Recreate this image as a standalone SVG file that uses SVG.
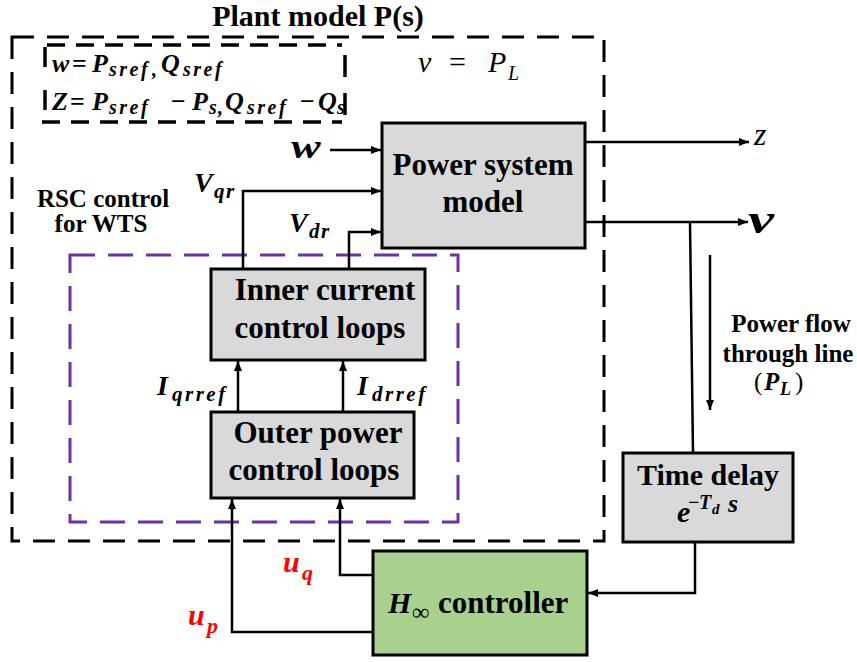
<svg xmlns="http://www.w3.org/2000/svg" width="857" height="662" viewBox="0 0 857 662">
<style>
.t{font-family:"Liberation Serif","Times New Roman",serif;font-weight:bold;fill:#000}
.m{font-family:"Liberation Serif","Times New Roman",serif;font-weight:bold;font-style:italic;fill:#000}
.r{font-family:"Liberation Serif","Times New Roman",serif;font-style:italic;fill:#000}
.box{fill:#d9d9d9;stroke:#000;stroke-width:3}
.green{fill:#a9d18e;stroke:#000;stroke-width:3}
.c{fill:none;stroke:#000;stroke-width:2.5}
.red{fill:#ff0000}
</style>
<defs>
<marker id="ah" markerUnits="userSpaceOnUse" markerWidth="11" markerHeight="8" refX="10" refY="4" orient="auto">
<path d="M0,0 L10,4 L0,8 Z" fill="#000"/>
</marker>
</defs>

<text class="t" x="318" y="26" font-size="30" text-anchor="middle">Plant model P(s)</text>

<g id="plant-boundary">
<rect x="12" y="37" width="592" height="504" fill="none" stroke="#000" stroke-width="3" stroke-dasharray="22 13"/>
</g>

<g id="rsc-boundary">
<rect x="70" y="255" width="388" height="267" fill="none" stroke="#7030a0" stroke-width="3" stroke-dasharray="25 13"/>
<text class="t" x="103" y="207" font-size="25" text-anchor="middle">RSC control</text>
<text class="t" x="101" y="232" font-size="25" text-anchor="middle">for WTS</text>
</g>

<g id="signal-definitions">
<g fill="none" stroke="#000" stroke-width="3.5">
<line x1="47" y1="45" x2="342" y2="45" stroke-dasharray="18 11"/>
<line x1="42" y1="122" x2="342" y2="122" stroke-dasharray="18 11"/>
<line x1="45" y1="47" x2="45" y2="67"/>
<line x1="45" y1="90" x2="45" y2="110"/>
<line x1="345" y1="55" x2="345" y2="77"/>
<line x1="345" y1="93" x2="345" y2="115"/>
</g>
<text class="m" font-size="26">
<tspan x="52" y="72">w</tspan><tspan x="72" y="72" font-style="normal">=</tspan><tspan x="92" y="72">P</tspan><tspan x="109" y="76" font-size="20" letter-spacing="2.5">sref</tspan><tspan x="152" y="76" font-size="20">,</tspan><tspan x="161" y="72">Q</tspan><tspan x="183" y="76" font-size="20" letter-spacing="2.5">sref</tspan>
</text>
<text class="m" font-size="26">
<tspan x="52" y="110">Z</tspan><tspan x="70" y="110" font-style="normal">=</tspan><tspan x="92" y="110">P</tspan><tspan x="109" y="114" font-size="20" letter-spacing="2.5">sref</tspan><tspan x="171" y="110" font-style="normal">−</tspan><tspan x="192" y="110">P</tspan><tspan x="209" y="114" font-size="20">s</tspan><tspan x="218" y="114" font-size="20">,</tspan><tspan x="225" y="110">Q</tspan><tspan x="247" y="114" font-size="20" letter-spacing="2.5">sref</tspan><tspan x="300" y="110" font-style="normal">−</tspan><tspan x="318" y="110">Q</tspan><tspan x="337" y="114" font-size="20">s</tspan>
</text>
</g>

<text class="r" font-size="30"><tspan x="418" y="72">v</tspan><tspan x="449" y="72" font-style="normal">=</tspan><tspan x="488" y="72">P</tspan><tspan x="508" y="80" font-size="20">L</tspan></text>

<g id="power-system-model">
<rect class="box" x="382" y="123" width="203" height="125"/>
<text class="t" x="483" y="175" font-size="31" text-anchor="middle">Power system</text>
<text class="t" x="483" y="212" font-size="31" text-anchor="middle">model</text>
</g>

<g id="inner-current-control">
<rect class="box" x="211" y="269" width="214" height="91"/>
<text class="t" x="325" y="300" font-size="31" text-anchor="middle">Inner current</text>
<text class="t" x="320" y="338" font-size="31" text-anchor="middle">control loops</text>
</g>

<g id="outer-power-control">
<rect class="box" x="211" y="412" width="203" height="86"/>
<text class="t" x="318" y="443" font-size="31" text-anchor="middle">Outer power</text>
<text class="t" x="314" y="480" font-size="31" text-anchor="middle">control loops</text>
</g>

<g id="time-delay">
<rect class="box" x="623" y="453" width="170" height="89"/>
<text class="t" x="708" y="485" font-size="30" text-anchor="middle">Time delay</text>
<text class="m" font-size="30"><tspan x="677" y="522">e</tspan><tspan x="688" y="509" font-size="20" font-style="normal">−</tspan><tspan x="699" y="509" font-size="20">T</tspan><tspan x="712" y="514" font-size="15">d</tspan><tspan x="728" y="512" font-size="26">s</tspan></text>
</g>

<g id="h-infinity-controller">
<rect class="green" x="373" y="551" width="214" height="104"/>
<text class="m" font-size="30"><tspan x="388" y="613">H</tspan><tspan x="412" y="620" font-size="24" font-style="normal">∞</tspan></text>
<text class="t" x="438" y="613" font-size="31">controller</text>
</g>

<g id="connectors">
<line class="c" x1="330" y1="150" x2="381" y2="150" marker-end="url(#ah)"/>
<polyline class="c" points="243,269 243,191 381,191" marker-end="url(#ah)"/>
<polyline class="c" points="349,269 349,232 381,232" marker-end="url(#ah)"/>
<line class="c" x1="585" y1="142" x2="749" y2="142" marker-end="url(#ah)"/>
<line class="c" x1="585" y1="222" x2="748" y2="222" marker-end="url(#ah)"/>
<line class="c" x1="690" y1="222" x2="693" y2="453"/>
<line class="c" x1="710" y1="255" x2="710" y2="410" marker-end="url(#ah)"/>
<line class="c" x1="238" y1="412" x2="238" y2="361" marker-end="url(#ah)"/>
<line class="c" x1="343" y1="412" x2="343" y2="361" marker-end="url(#ah)"/>
<polyline class="c" points="373,575 340,575 340,499" marker-end="url(#ah)"/>
<polyline class="c" points="373,632 232,632 232,499" marker-end="url(#ah)"/>
<polyline class="c" points="695,542 695,593 588,593" marker-end="url(#ah)"/>
</g>

<g id="labels">
<text class="m" font-size="33" transform="translate(291,158) scale(1.35,1)">w</text>
<text class="m" font-size="28"><tspan x="194" y="192">V</tspan><tspan x="214" y="198" font-size="21" letter-spacing="1.5">qr</tspan></text>
<text class="m" font-size="28"><tspan x="289" y="232">V</tspan><tspan x="309" y="238" font-size="21" letter-spacing="1.5">dr</tspan></text>
<text class="r" font-size="32" x="754" y="145">z</text>
<text class="m" font-size="42" transform="translate(748,233) scale(1.4,1)">v</text>
<text class="m" font-size="28"><tspan x="157" y="395">I</tspan><tspan x="172" y="401" font-size="21" letter-spacing="2.5">qrref</tspan></text>
<text class="m" font-size="28"><tspan x="357" y="395">I</tspan><tspan x="372" y="401" font-size="21" letter-spacing="2.5">drref</tspan></text>
<text class="m red" font-size="30"><tspan x="283" y="572">u</tspan><tspan x="302" y="580" font-size="22">q</tspan></text>
<text class="m red" font-size="30"><tspan x="188" y="625">u</tspan><tspan x="207" y="633" font-size="22">p</tspan></text>
<text class="t" x="791" y="332" font-size="25" text-anchor="middle">Power flow</text>
<text class="t" x="788" y="362" font-size="25" text-anchor="middle">through line</text>
<text class="t" font-size="25"><tspan x="754" y="390" font-weight="normal">(</tspan><tspan x="764" y="390" font-style="italic">P</tspan><tspan x="780" y="395" font-size="18" font-style="italic">L</tspan><tspan x="795" y="390" font-weight="normal">)</tspan></text>
</g>
</svg>
